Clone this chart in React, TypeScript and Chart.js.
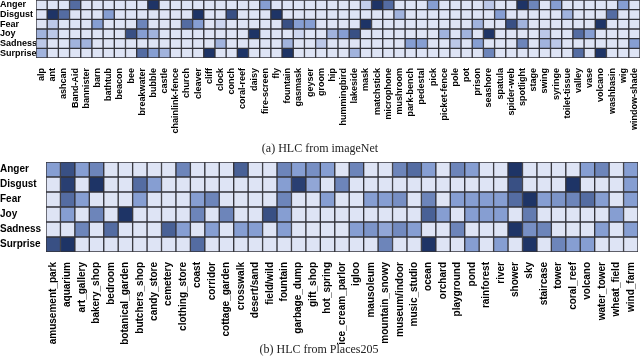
import React, { useEffect, useRef } from "react";
import { Chart, registerables } from "chart.js";
Chart.register(...registerables);

const emotions = ["Anger", "Disgust", "Fear", "Joy", "Sadness", "Surprise"];

const imagenetLabels = [
  "alp", "ant", "ashcan", "Band-Aid", "bannister", "barn", "bathtub", "beacon", "bee", "breakwater",
  "bubble", "castle", "chainlink-fence", "church", "cleaver", "cliff", "clock", "conch", "coral-reef", "daisy",
  "fire-screen", "fly", "fountain", "gasmask", "geyser", "groom", "hip", "hummingbird", "lakeside", "mask",
  "matchstick", "microphone", "mushroom", "park-bench", "pedestal", "pick", "picket-fence", "pole", "pot", "prison",
  "seashore", "spatula", "spider-web", "spotlight", "stage", "swing", "syringe", "toilet-tissue", "valley", "vase",
  "volcano", "washbasin", "wig", "window-shade",
];

const placesLabels = [
  "amusement_park", "aquarium", "art_gallery", "bakery_shop", "bedroom", "botanical_garden", "butchers_shop", "candy_store", "cemetery", "clothing_store",
  "coast", "corridor", "cottage_garden", "crosswalk", "desert/sand", "field/wild", "fountain", "garbage_dump", "gift_shop", "hot_spring",
  "ice_cream_parlor", "igloo", "mausoleum", "mountain_snowy", "museum/indoor", "music_studio", "ocean", "orchard", "playground", "pond",
  "rainforest", "river", "shower", "sky", "staircase", "tower", "coral_reef", "volcano", "water_tower", "wheat_field",
  "wind_farm",
];

// intensity levels 0 (light) .. 4 (darkest)
const angerA = [
  0, 0, 0, 3, 0, 0, 0, 0, 0, 0,
  4, 0, 0, 0, 0, 0, 0, 0, 0, 0,
  2, 0, 0, 0, 0, 0, 0, 0, 0, 0.8,
  4, 3, 0, 0, 0, 2, 0, 0, 0, 0,
  1, 0, 0, 4, 2.5, 0, 2, 0, 0, 0,
  0, 0, 2, 0,
];
const disgustA = [
  0, 4, 3, 0, 0, 0, 2, 0, 0, 0,
  0, 0, 0, 0, 4, 0, 0, 3.5, 0, 0,
  0, 4, 0, 0, 0, 0, 0, 0, 0, 0,
  0, 0, 1.5, 0, 0, 0, 0, 0, 0, 0,
  0, 2, 0, 0, 0, 0, 0, 1.5, 0, 0,
  0, 3, 0, 0,
];
const fearA = [
  0, 1, 0, 0, 0, 2, 0, 0, 0, 2.5,
  0, 0, 0, 3, 2, 0, 0.5, 0, 0, 0,
  0, 0, 3.5, 2, 2, 0, 0, 0, 0, 4,
  0, 0, 0, 0, 0, 0, 0, 0, 0, 1.5,
  0, 0, 3.5, 1.5, 0, 0, 0, 0, 0, 0,
  4, 0, 0, 0,
];
const joyA = [
  1.5, 1, 0, 0, 0, 0, 0, 0, 3.5, 2,
  1.5, 0, 0, 0, 0, 0, 0, 0, 0, 4,
  0, 0, 0, 0.5, 0, 0, 1.5, 2, 3.5, 0,
  0, 0, 0, 0, 0, 0, 1.5, 0, 1.5, 0,
  4, 0, 0, 0, 0, 1, 0, 0, 3, 2,
  0, 0, 0, 0,
];
const sadnessA = [
  1, 0, 0, 1.5, 1.5, 0, 0, 0, 0, 0,
  0, 0, 0, 0, 0, 0, 1.5, 0, 0, 0,
  0, 0, 1.5, 0, 0, 1, 0, 0, 0, 0,
  0, 0, 0, 2, 2, 0, 0, 1, 0, 2,
  0, 0, 0, 2.5, 0, 1.5, 1, 0, 0, 0,
  0, 0, 0, 2,
];
const surpriseA = [
  1.5, 0, 0, 0, 0, 0, 0, 0, 0, 3,
  2, 1.5, 0, 0, 0, 4, 0, 0, 4, 0,
  0, 0, 4, 0, 0, 0, 0, 0, 1.5, 0,
  0, 0, 0, 0, 0, 0, 0, 0, 0, 0,
  2.5, 0, 0, 0, 0, 0, 0, 0, 3, 0,
  4, 0, 0, 0,
];

const angerB = [
  2, 3.5, 2, 2.5, 0, 0, 0, 0, 0, 2.5,
  0, 0, 0, 3.2, 0, 0, 2.5, 2, 2.3, 2,
  0, 2.5, 0, 0, 2.5, 3, 2, 0, 2.5, 2,
  0, 0, 4, 0, 0, 0, 0, 2, 2.5, 0,
  2,
];
const disgustB = [
  0, 3.8, 0, 4, 0, 0, 3, 2, 0, 0,
  0, 0, 0, 0, 0, 0, 2, 3.8, 1.8, 0,
  2.5, 0, 0, 0, 0, 0, 0, 0, 0, 0,
  0, 0, 3.5, 0, 0, 0, 4, 0, 0, 0,
  2,
];
const fearB = [
  0, 3, 2, 0, 0, 0, 2, 0, 0, 0,
  2, 2.5, 0, 0, 0, 0, 2.5, 0, 0, 2,
  0, 0, 2, 2, 2.3, 0, 2.5, 0, 2, 2,
  2, 2, 3, 4, 2, 2.2, 2.5, 3, 2, 0,
  2,
];
const joyB = [
  0, 2, 0, 2.5, 0, 4, 0, 0, 0, 0,
  2.5, 0, 2.5, 0, 0, 3.5, 2, 0, 0, 0,
  0, 0, 0, 0, 0, 0, 3.2, 2, 0, 2,
  2, 2, 0, 2.7, 0, 0, 0, 0, 0, 2,
  0,
];
const sadnessB = [
  0, 0, 2.5, 0, 3, 0, 0, 0, 3.2, 2,
  0, 2, 0, 2, 2, 0, 2, 0, 0, 0,
  0, 2, 2.2, 1.8, 2.4, 2, 0, 0, 2.5, 0,
  0, 0, 4, 2.3, 2.5, 0, 0, 0, 2, 0,
  2,
];
const surpriseB = [
  3.5, 4, 0, 0, 0, 0, 0, 0, 0, 0,
  3, 0, 0, 0, 0, 0, 0, 0, 0, 0,
  0, 0, 0, 2.5, 0, 0, 4, 0, 0, 2,
  0, 2, 0, 4, 0, 2.5, 2, 2, 0, 0,
  0,
];

const stops = [
  [222, 228, 245],
  [188, 200, 232],
  [134, 158, 210],
  [84, 108, 162],
  [30, 52, 102],
];

function levelColor(v: number): string {
  const t = Math.max(0, Math.min(4, v));
  const i = Math.min(3, Math.floor(t));
  const f = t - i;
  const a = stops[i];
  const b = stops[i + 1];
  const c = a.map((x, k) => Math.round(x + (b[k] - x) * f));
  return `rgb(${c[0]},${c[1]},${c[2]})`;
}

type Opts = {
  yWidth: number;
  xHeight: number;
  yFont: number;
  xFont: number;
  title: string;
  padding: any;
  titlePad: any;
};

function buildConfig(labels: string[], rows: number[][], o: Opts): any {
  const datasets = rows
    .map((vals, r) => ({
      label: emotions[r],
      data: labels.map(() => 1),
      backgroundColor: vals.map(levelColor),
      borderColor: "#33333a",
      borderWidth: 1,
      borderSkipped: false,
      barPercentage: 1,
      categoryPercentage: 1,
      stack: "s",
    }))
    .reverse();
  return {
    type: "bar",
    data: { labels, datasets },
    options: {
      responsive: false,
      animation: false,
      layout: { padding: o.padding },
      plugins: {
        legend: { display: false },
        tooltip: { enabled: false },
        title: {
          display: true,
          position: "bottom",
          text: o.title,
          color: "#222",
          font: { family: "'Liberation Serif', 'Times New Roman', serif", size: 12, weight: "normal" },
          padding: o.titlePad,
        },
      },
      scales: {
        x: {
          type: "category",
          stacked: true,
          grid: { display: false },
          border: { display: false },
          ticks: {
            autoSkip: false,
            maxRotation: 90,
            minRotation: 90,
            padding: 2,
            color: "#000",
            font: { family: "'Liberation Sans', Arial, sans-serif", size: o.xFont, weight: "bold" },
          },
          afterFit: (s: any) => {
            s.height = o.xHeight;
            s.paddingLeft = 0;
            s.paddingRight = 0;
          },
        },
        y: {
          type: "linear",
          stacked: true,
          min: 0,
          max: 6,
          grid: { display: false },
          border: { display: false },
          afterBuildTicks: (s: any) => {
            s.ticks = [0.5, 1.5, 2.5, 3.5, 4.5, 5.5].map((v) => ({ value: v }));
          },
          ticks: {
            autoSkip: false,
            crossAlign: "far",
            padding: 2,
            color: "#000",
            font: { family: "'Liberation Sans', Arial, sans-serif", size: o.yFont, weight: "bold", lineHeight: 1 },
            callback: (v: any) => emotions[5 - Math.floor(Number(v))],
          },
          afterFit: (s: any) => {
            s.width = o.yWidth;
            s.paddingTop = 0;
            s.paddingBottom = 0;
          },
        },
      },
    },
  };
}

export default function App() {
  const refA = useRef<HTMLCanvasElement>(null);
  const refB = useRef<HTMLCanvasElement>(null);
  useEffect(() => {
    const a = new Chart(
      refA.current as HTMLCanvasElement,
      buildConfig(imagenetLabels, [angerA, disgustA, fearA, joyA, sadnessA, surpriseA], {
        yWidth: 36,
        xHeight: 81.6,
        yFont: 9,
        xFont: 9,
        title: "(a) HLC from imageNet",
        padding: { top: 0, right: 0, left: 0, bottom: 0 },
        titlePad: { top: 2, bottom: 2 },
      })
    );
    const b = new Chart(
      refB.current as HTMLCanvasElement,
      buildConfig(placesLabels, [angerB, disgustB, fearB, joyB, sadnessB, surpriseB], {
        yWidth: 46,
        xHeight: 96,
        yFont: 10,
        xFont: 10,
        title: "(b) HLC from Places205",
        padding: { top: 2, right: 2, left: 0, bottom: 0 },
        titlePad: { top: -5.7, bottom: 1.3 },
      })
    );
    return () => {
      a.destroy();
      b.destroy();
    };
  }, []);
  return (
    <div style={{ position: "absolute", left: 0, top: 0, width: 640, height: 358, background: "#fff" }}>
      <canvas ref={refA} width={640} height={158} style={{ position: "absolute", left: 0, top: 0 }} />
      <canvas ref={refB} width={640} height={198} style={{ position: "absolute", left: 0, top: 160 }} />
    </div>
  );
}
